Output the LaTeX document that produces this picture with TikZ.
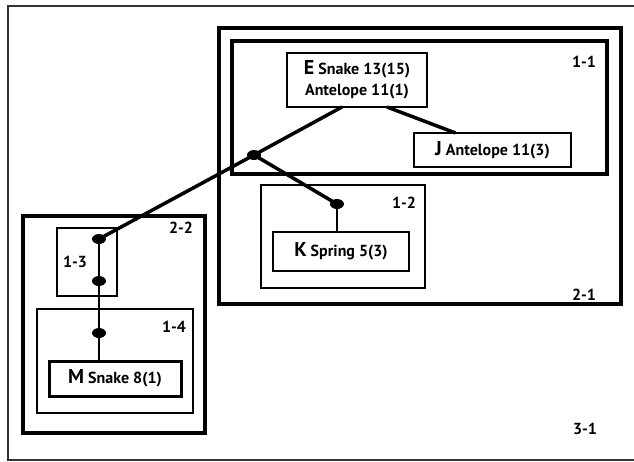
\documentclass[tikz,border=0pt]{standalone}
\usepackage{fontspec}
\setmainfont{PT Sans}
\usetikzlibrary{shapes.geometric}
\newcommand{\sitelbl}[1]{{\fontsize{20}{21}\selectfont\bfseries #1}}

\begin{document}
\begin{tikzpicture}[x=1pt, y=-1pt,
  frame/.style={draw, line width=#1, inner sep=0pt, outer sep=0pt},
  taxon/.style={draw, line width=#1, inner sep=0pt, outer sep=0pt, align=center, font=\fontsize{16}{21}\selectfont\bfseries},
  tag/.style={font=\fontsize{16}{18}\selectfont\bfseries, inner sep=0pt},
  dot/.style={ellipse, fill=black, minimum width=14pt, minimum height=10pt, inner sep=0pt},
  link/.style={line width=3.5pt},
  stem/.style={line width=2pt}
]
\clip (0,0) rectangle (634,461);

\node[frame=1.6pt, draw=black!80, minimum width=632pt, minimum height=454pt] (f31) at (324,233) {};
\node[frame=4pt, minimum width=402pt, minimum height=276pt] (f21) at (420,166) {};
\node[frame=4pt, minimum width=375pt, minimum height=133pt] (f11) at (419.5,107.5) {};
\node[frame=1.5pt, minimum width=164pt, minimum height=103pt] (f12) at (343,236.5) {};
\node[frame=3.5pt, minimum width=182pt, minimum height=217pt] (f22) at (114,324.5) {};
\node[frame=1.5pt, minimum width=60pt, minimum height=68pt] (f13) at (87,262) {};
\node[frame=1.2pt, minimum width=156pt, minimum height=104pt] (f14) at (115,361) {};

\node[tag] (t31) at (585,429) {3-1};
\node[tag] (t21) at (584,295) {2-1};
\node[tag] (t11) at (584,62) {1-1};
\node[tag] (t12) at (404,203) {1-2};
\node[tag] (t22) at (181,228) {2-2};
\node[tag] (t13) at (75,262) {1-3};
\node[tag] (t14) at (174,327) {1-4};

\node[taxon=1.8pt, minimum width=140pt, minimum height=54pt] (E) at (357,80) {\sitelbl{E} Snake 13(15)\\Antelope 11(1)};
\node[taxon=1.8pt, minimum width=157pt, minimum height=34pt] (J) at (492.5,150) {\sitelbl{J} Antelope 11(3)};
\node[taxon=1.8pt, minimum width=136pt, minimum height=39pt] (K) at (341,251.5) {\sitelbl{K} Spring 5(3)};
\node[taxon=3pt, minimum width=132pt, minimum height=35pt] (M) at (115,378.5) {\sitelbl{M} Snake 8(1)};

\node[dot] (jn) at (254,155) {};
\node[dot] (kd) at (337,204) {};
\node[dot] (d13a) at (99,239) {};
\node[dot] (d13b) at (99,281) {};
\node[dot] (d14) at (99,333) {};

\draw[link] ([xshift=-15pt]E.south) -- (jn.center) -- (d13a.center);
\draw[link] ([xshift=30pt]E.south) -- ([xshift=-37pt]J.north);
\draw[link] (jn.center) -- (kd.center);
\draw[stem] (kd.center) -- (kd |- K.north);
\draw[stem] (d13a.center) -- (d13b.center) -- (d14.center) -- (d14 |- M.north);
\end{tikzpicture}
\end{document}
